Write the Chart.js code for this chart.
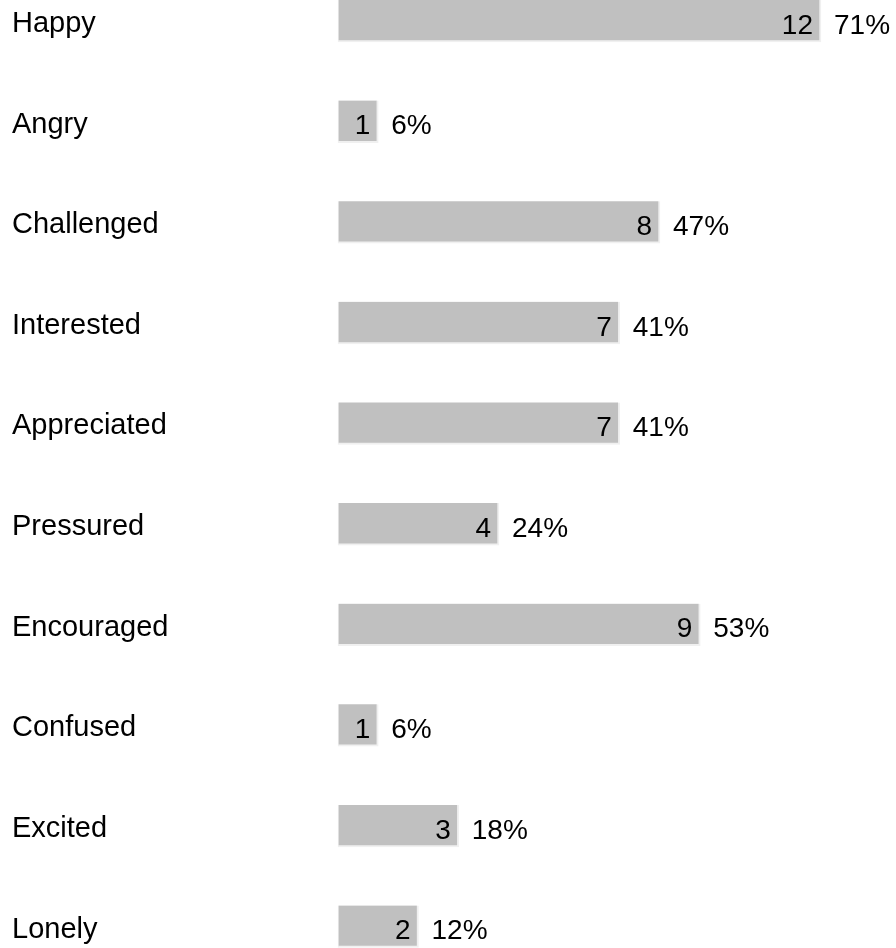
<!DOCTYPE html>
<html>
<head>
<meta charset="utf-8">
<script src="https://cdn.jsdelivr.net/npm/chart.js@4/dist/chart.umd.min.js"></script>
<style>
html,body{margin:0;padding:0;background:#fff;}
#wrap{position:relative;width:896px;height:948px;}
</style>
</head>
<body>
<div id="wrap"><canvas id="c" width="896" height="948"></canvas></div>
<script>
const categories = ["Happy","Angry","Challenged","Interested","Appreciated","Pressured","Encouraged","Confused","Excited","Lonely"];
const counts = [12,1,8,7,7,4,9,1,3,2];
const percents = ["71%","6%","47%","41%","41%","24%","53%","6%","18%","12%"];

const FONT = "'Liberation Sans', Arial, sans-serif";

const labelPlugin = {
  id: 'barLabels',
  afterDatasetsDraw(chart) {
    const ctx = chart.ctx;
    const meta = chart.getDatasetMeta(0);
    ctx.save();
    ctx.font = "28px " + FONT;
    ctx.fillStyle = "#000";
    ctx.textBaseline = "middle";
    meta.data.forEach((bar, i) => {
      const y = bar.y + 5;
      ctx.textAlign = "right";
      ctx.fillText(String(counts[i]), bar.x - 8, y);
      ctx.textAlign = "left";
      ctx.fillText(percents[i], bar.x + 13, y);
    });
    ctx.restore();
  }
};

new Chart(document.getElementById('c'), {
  type: 'bar',
  data: {
    labels: categories,
    datasets: [{
      data: counts,
      backgroundColor: '#c0c0c0',
      borderColor: '#f0f0f0',
      borderWidth: {left: 1, right: 2, bottom: 2, top: 0},
      borderSkipped: false,
      barThickness: 42,
      clip: false
    }]
  },
  options: {
    indexAxis: 'y',
    responsive: false,
    animation: false,
    devicePixelRatio: 1,
    layout: {padding: {left: 12, right: 75, top: 21, bottom: 21.5}},
    plugins: {legend: {display: false}, tooltip: {enabled: false}},
    scales: {
      x: {display: false, min: 0, max: 12},
      y: {
        offset: false,
        grid: {display: false},
        border: {display: false},
        ticks: {
          crossAlign: 'far',
          padding: 0,
          labelOffset: 3,
          color: '#000',
          font: {family: FONT, size: 29}
        },
        afterFit(scale) { scale.width = 326; }
      }
    }
  },
  plugins: [labelPlugin]
});
</script>
</body>
</html>
